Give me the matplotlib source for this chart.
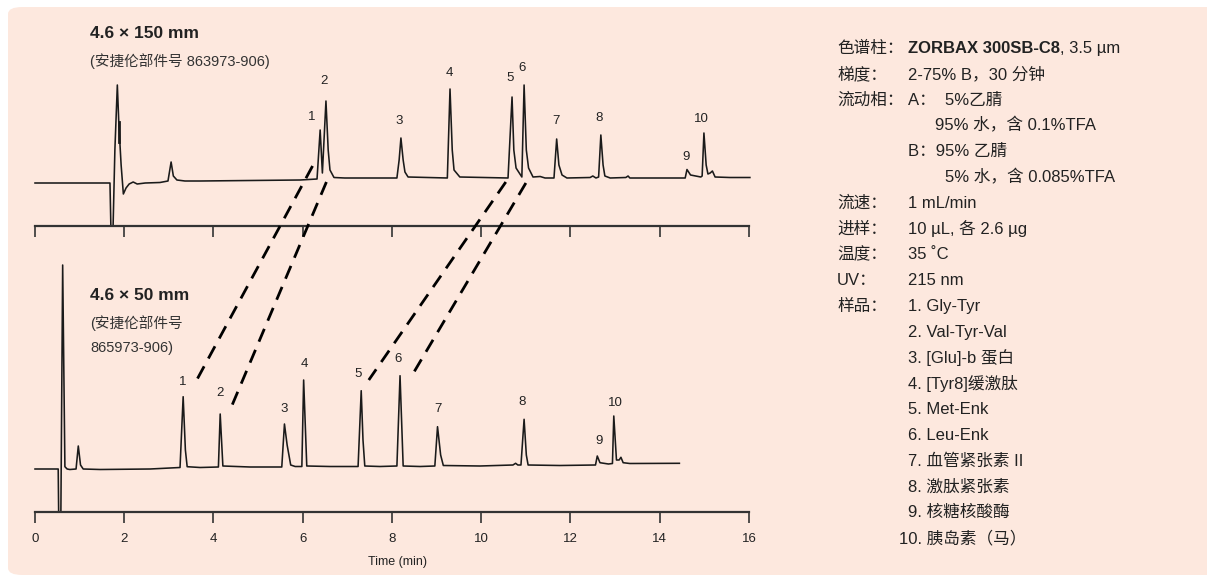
import matplotlib
matplotlib.use("Agg")
import matplotlib.pyplot as plt
from matplotlib.patches import FancyBboxPatch, ConnectionPatch
from matplotlib import font_manager

# fonts: narrow latin face if there is one, CJK fallback
names = set(f.name for f in font_manager.fontManager.ttflist)
latin = "Liberation Sans Narrow" if "Liberation Sans Narrow" in names else "Liberation Sans"
FAM = [latin, "Noto Sans CJK SC", "DejaVu Sans"]
plt.rcParams["font.family"] = FAM

# ---- data (time in min, signal in arbitrary units) ----
# 4.6 x 150 mm trace
top_t = [0.00, 1.68, 1.70, 1.75, 1.79, 1.845, 1.88, 1.93, 1.98, 2.04, 2.11, 2.20, 2.29, 2.47,
         2.80, 2.98, 3.05, 3.10, 3.18, 3.36, 3.70, 4.82, 5.94, 6.32, 6.39, 6.44, 6.52, 6.57,
         6.61, 6.70, 6.94, 8.11, 8.16, 8.20, 8.25, 8.29, 8.36, 9.24, 9.30, 9.35, 9.39, 9.52,
         10.60, 10.69, 10.73, 10.78, 10.91, 10.96, 11.01, 11.06, 11.16, 11.32, 11.43, 11.63,
         11.69, 11.74, 11.81, 11.92, 12.44, 12.50, 12.57, 12.63, 12.68, 12.73, 12.77, 12.89,
         13.24, 13.29, 13.33, 14.57, 14.61, 14.69, 14.92, 14.95, 14.99, 15.04, 15.08, 15.13,
         15.18, 15.24, 15.57, 16.02]
top_s = [0, 0, -43, -43, 33, 98, 58, 18, -11, -5, -1, 1, -1, 0,
         0.5, 2, 21, 7, 3, 2, 2, 2.5, 3, 4, 53, 10, 82, 33,
         13, 5.5, 5, 5, 23, 45, 23, 11, 6, 5, 94, 33, 13, 6,
         5, 86, 33, 15, 6, 98, 33, 15, 6, 6.5, 5, 5,
         44, 18, 8, 5, 5.5, 7, 5, 6, 48, 18, 7, 5,
         5.5, 7, 5, 5, 13.5, 8, 6, 7, 50, 18, 9, 10,
         12, 6, 5.5, 5.5]
top_mark_t = [1.89, 1.89]
top_mark_s = [61, 41]

# 4.6 x 50 mm trace
bot_t = [0.00, 0.52, 0.53, 0.58, 0.62, 0.67, 0.72, 0.78, 0.92, 0.97, 1.02, 1.08, 1.46, 2.58,
         3.25, 3.32, 3.37, 3.41, 3.70, 4.11, 4.15, 4.21, 4.82, 5.53, 5.59, 5.65, 5.73, 5.83,
         5.98, 6.02, 6.09, 6.61, 7.24, 7.31, 7.35, 7.39, 7.73, 8.11, 8.18, 8.23, 8.25, 8.63,
         8.96, 9.02, 9.09, 9.15, 9.97, 10.71, 10.77, 10.82, 10.89, 10.96, 11.01, 11.05, 11.76,
         12.56, 12.60, 12.66, 12.85, 12.94, 12.97, 13.03, 13.09, 13.13, 13.18, 13.33, 14.44]
bot_s = [0, 0, -43, -43, 204, 2.3, 0, -0.5, 0, 23, 4, 0, -0.5, 0,
         1.5, 72.3, 19, 2.3, 1.5, 2, 55, 3, 2, 2, 45, 24, 4, 2.5,
         2.5, 89, 3, 2.5, 2.5, 78.3, 29, 3, 2.5, 3, 93.3, 29, 3, 2.5,
         3, 42.3, 14, 3.5, 3, 4, 5.7, 4, 4, 49.7, 14, 4, 3.5,
         4, 13, 6.3, 5, 5.5, 53, 9, 9, 11.7, 6.3, 5.5, 5.7]

peak_ids = ["1", "2", "3", "4", "5", "6", "7", "8", "9", "10"]
top_lab_t = [6.21, 6.48, 8.16, 9.28, 10.64, 10.92, 11.67, 12.64, 14.58, 14.94]
top_lab_s = [66, 102, 62, 110, 105, 115, 62, 65, 26, 64]
bot_lab_t = [3.32, 4.15, 5.58, 6.03, 7.24, 8.13, 9.04, 10.92, 12.64, 13.00]
bot_lab_s = [87, 76, 60, 105, 95, 110, 60, 67, 28, 66]

# dashed connectors: (top t, top s) -> (bottom t, bottom s)
conn_top = [(6.22, 17), (6.53, 1), (10.55, 1), (11.00, 0)]
conn_bot = [(3.60, 87), (4.39, 61), (7.48, 89), (8.48, 96)]

xticks = [0, 2, 4, 6, 8, 10, 12, 14, 16]

cond_labels = ["色谱柱：", "梯度：", "流动相：", "", "", "", "流速：", "进样：", "温度：", "UV：", "样品："]
cond_values = ["", "2-75% B，30 分钟", "A：  5%乙腈", "95% 水，含 0.1%TFA", "B：95% 乙腈",
               "5% 水，含 0.085%TFA", "1 mL/min", "10 µL, 各 2.6 µg", "35 ˚C", "215 nm", "1. Gly-Tyr"]
cond_indent = [0, 0, 0, 27, 0, 37, 0, 0, 0, 0, 0]
samples = ["2. Val-Tyr-Val", "3. [Glu]-b 蛋白", "4. [Tyr8]缓激肽", "5. Met-Enk", "6. Leu-Enk",
           "7. 血管紧张素 II", "8. 激肽紧张素", "9. 核糖核酸酶", "10. 胰岛素（马）"]

W, H = 1207, 577
fig = plt.figure(figsize=(W / 100, H / 100), dpi=100)
fig.patch.set_facecolor("white")
bg = FancyBboxPatch((8 / W, 1 - 575 / H), 1.05, (575 - 7) / H,
                    boxstyle="round,pad=0,rounding_size=0.012", transform=fig.transFigure,
                    facecolor="#fde8de", edgecolor="none", zorder=-10)
fig.patches.append(bg)

ink = "#1a1a1a"
axc = "#333333"


def px(x, y):
    return x / W, 1 - y / H


def setup(ax, labels):
    ax.set_facecolor("none")
    for sp in ["left", "right", "top"]:
        ax.spines[sp].set_visible(False)
    ax.spines["bottom"].set_linewidth(1.6)
    ax.spines["bottom"].set_color(axc)
    ax.set_yticks([])
    ax.set_xlim(0, 16)
    ax.set_xticks(xticks)
    ax.tick_params(axis="x", direction="out", length=8, width=1.2, color=axc,
                   labelsize=9.5, pad=7, labelcolor="#222222")
    if not labels:
        ax.set_xticklabels([])


# top panel
ax1 = fig.add_axes([35 / W, 1 - 226 / H, 714 / W, 168 / H])
setup(ax1, False)
ax1.set_ylim(-43, 125)
ax1.plot(top_t, top_s, color=ink, lw=1.15, clip_on=False, solid_joinstyle="round")
ax1.plot(top_mark_t, top_mark_s, color=ink, lw=2.0, clip_on=False)
for lab, t, s in zip(peak_ids, top_lab_t, top_lab_s):
    ax1.text(t, s, lab, ha="center", va="center", fontsize=9.5, color="#222222")

# bottom panel
ax2 = fig.add_axes([35 / W, 1 - 512 / H, 714 / W, 257 / H])
setup(ax2, True)
ax2.set_ylim(-43, 214)
ax2.plot(bot_t, bot_s, color=ink, lw=1.15, clip_on=False, solid_joinstyle="round")
for lab, t, s in zip(peak_ids, bot_lab_t, bot_lab_s):
    ax2.text(t, s, lab, ha="center", va="center", fontsize=9.5, color="#222222")

for a, b in zip(conn_top, conn_bot):
    cp = ConnectionPatch(xyA=a, coordsA=ax1.transData, xyB=b, coordsB=ax2.transData,
                         color="black", lw=2.0, linestyle=(0, (5, 3.2)), capstyle="butt")
    fig.add_artist(cp)

fig.text(*px(397, 562), "Time (min)", ha="center", va="center", fontsize=9, color="#222222")

# column titles
fig.text(*px(90, 33), "4.6 × 150 mm", ha="left", va="center", fontsize=12.5,
         fontweight="bold", color="#222222")
fig.text(*px(90, 61), "(安捷伦部件号 863973-906)", ha="left", va="center", fontsize=10.5,
         color="#333333")
fig.text(*px(90, 296), "4.6 × 50 mm", ha="left", va="center", fontsize=12.5,
         fontweight="bold", color="#222222")
fig.text(*px(90, 323), "(安捷伦部件号", ha="left", va="center", fontsize=10.5, color="#333333")
fig.text(*px(90, 348), "865973-906)", ha="left", va="center", fontsize=10.5, color="#333333")

# conditions panel
fs = 12
y0, dy = 48.3, 25.8
tc = "#222222"
for i, (lab, val, ind) in enumerate(zip(cond_labels, cond_values, cond_indent)):
    y = y0 + i * dy
    if lab:
        fig.text(*px(837, y), lab, ha="left", va="center", fontsize=fs, color=tc)
    if val:
        fig.text(*px(908 + ind, y), val, ha="left", va="center", fontsize=fs, color=tc)

# first line: bold column name + rest
bold = fig.text(*px(908, y0), "ZORBAX 300SB-C8", ha="left", va="center", fontsize=fs,
                fontweight="bold", color=tc)
r = fig.canvas.get_renderer()
bb = bold.get_window_extent(renderer=r)
fig.text(bb.x1 / W, 1 - y0 / H, ", 3.5 µm", ha="left", va="center", fontsize=fs, color=tc)

for j, s in enumerate(samples):
    y = y0 + (len(cond_labels) + j) * dy
    if s.startswith("10."):
        fig.text(*px(899, y), s, ha="left", va="center", fontsize=fs, color=tc)
    else:
        fig.text(*px(908, y), s, ha="left", va="center", fontsize=fs, color=tc)

fig.savefig("out.png", dpi=100, facecolor="white")
